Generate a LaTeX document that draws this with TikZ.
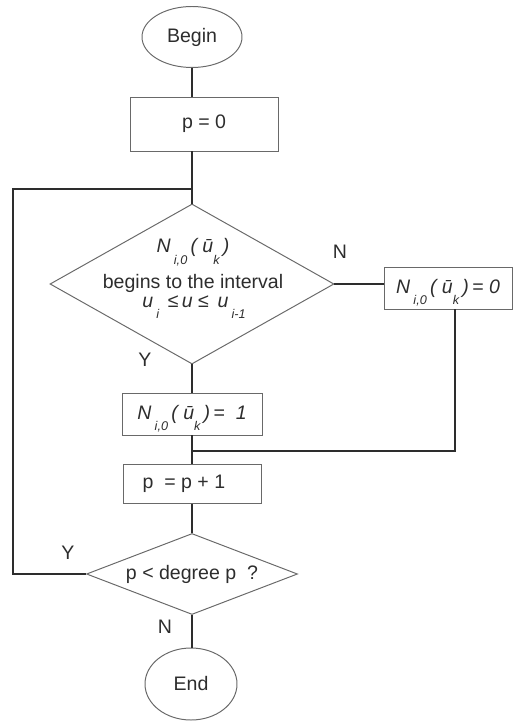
\documentclass[tikz,border=0pt]{standalone}
\usepackage{fontspec}
\setmainfont{Liberation Sans}
\usetikzlibrary{positioning,shapes.geometric}
\definecolor{InkGray}{RGB}{45,45,45}
\definecolor{EdgeGray}{RGB}{105,105,105}
\newcommand{\sbs}[1]{\raisebox{-0.6em}{\fontsize{9}{10}\selectfont\itshape #1}}
\newcommand{\Nexpr}{\textit{N}\,\sbs{i,0}\,\textit{(\;\=u}\sbs{k}\,\textit{)}}
\tikzset{
  terminal/.style={draw=EdgeGray,ellipse,line width=0.7pt,inner sep=0pt,text=InkGray},
  process/.style={draw=EdgeGray,rectangle,line width=0.7pt,inner sep=0pt,
    align=center,text=InkGray},
  subbox/.style={process,text height=0.72em,text depth=0pt},
  decision/.style={draw=EdgeGray,diamond,line width=0.7pt,inner sep=0pt},
  tag/.style={text=InkGray,inner sep=1pt},
  connector/.style={line width=1.3pt,InkGray}
}

\begin{document}
\begin{tikzpicture}[font=\fontsize{13.9}{16}\selectfont]
  \useasboundingbox (0,0) rectangle (12.825,-18.025);

  % main column
  \node[terminal,minimum width=2.5cm,minimum height=1.525cm] (begin) at (4.8,-0.925) {Begin};
  \node[process,minimum width=3.7cm,minimum height=1.35cm] (p0) at (5.1,-3.1) {p = 0};
  \node[decision,minimum width=7.1cm,minimum height=4cm] (dia1) at (4.8,-7.1) {};
  \node[tag,anchor=base] (dline1) at (4.825,-6.325) {\Nexpr};
  \node[tag,anchor=base] (dline2) at (4.825,-7.2) {begins to the interval};
  \node[tag,anchor=base] (dline3) at (4.85,-7.675)
    {\textit{u}\,\sbs{i}\;\,≤\,\textit{u}\;≤\;\,\textit{u}\,\sbs{i-1}};
  \node[subbox,minimum width=3.5cm,minimum height=1.05cm] (n1) at (4.8,-10.35) {\Nexpr\,\textit{=\; 1}};
  \node[process,minimum width=3.45cm,minimum height=0.975cm] (pp1) at (4.8,-12.1) {p \;= p + 1\;\;\;};
  \node[decision,minimum width=5.275cm,minimum height=2.025cm] (dia2) at (4.8,-14.35) {};
  \node[tag] (dtext2) at (4.8,-14.35) {p < degree p \ ?};
  \node[terminal,minimum width=2.3cm,minimum height=1.8cm] (end) at (4.775,-17.1) {End};

  % branch on the right
  \node[subbox,minimum width=3.2cm,minimum height=1.05cm] (n0) at (11.2,-7.2) {\Nexpr\,\textit{= 0}};

  % helper points
  \coordinate (join) at (4.8,-4.725);
  \coordinate (loop) at (0.325,-4.725);
  \coordinate (merge) at (4.8,-11.275);

  % connectors
  \draw[connector] (begin.south) -- (begin.south |- p0.north);
  \draw[connector] (begin.south |- p0.south) -- (dia1.north);
  \draw[connector] (dia1.east) -- (dia1.east -| n0.west);
  \draw[connector] (dia1.south) -- (n1.north);
  \draw[connector] (n1.south) -- (pp1.north);
  \draw[connector] ([xshift=0.175cm]n0.south) |- (merge);
  \draw[connector] (pp1.south) -- (dia2.north);
  \draw[connector] (dia2.south) -- (dia2.south |- end.north);
  \draw[connector] (dia2.west) -| (loop) -- (join);

  % branch labels
  \node[tag] (lblN1) at (8.5,-6.3) {N};
  \node[tag] (lblY1) at (3.625,-9.0) {Y};
  \node[tag] (lblY2) at (1.7,-13.825) {Y};
  \node[tag] (lblN2) at (4.125,-15.675) {N};
\end{tikzpicture}
\end{document}
